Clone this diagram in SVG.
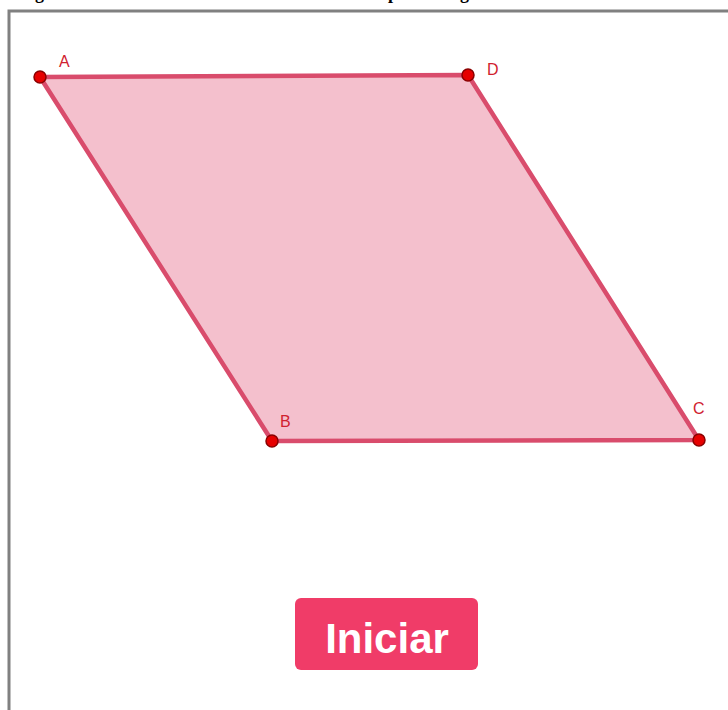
<svg xmlns="http://www.w3.org/2000/svg" width="728" height="710" viewBox="0 0 728 710">
<style>
.lbl{font-family:"Liberation Sans",Arial,sans-serif;font-size:16px;fill:#d0212f}
.pt{fill:#e60000;stroke:#8a0000;stroke-width:1.5}
.cut{font-family:"Liberation Serif","Times New Roman",serif;font-weight:bold;font-size:18px;fill:#000}
</style>
<rect width="728" height="710" fill="#ffffff"/>
<text class="cut" x="35" y="-1">g</text>
<text class="cut" x="388" y="-1">p</text>
<text class="cut" x="460" y="-1">g</text>
<path d="M9 712 V11 H730" fill="none" stroke="#808080" stroke-width="3"/>
<g id="shape">
<polygon points="40,77 468,75 699,440 272,441" fill="#f4c0cd" stroke="#d94c6c" stroke-width="4.5" stroke-linejoin="round"/>
</g>
<g id="A"><circle class="pt" cx="40" cy="77" r="6"/><text class="lbl" x="59" y="67">A</text></g>
<g id="D"><circle class="pt" cx="468" cy="75" r="6"/><text class="lbl" x="487" y="75">D</text></g>
<g id="B"><circle class="pt" cx="272" cy="441" r="6"/><text class="lbl" x="280" y="427">B</text></g>
<g id="C"><circle class="pt" cx="699" cy="440" r="6"/><text class="lbl" x="693" y="414">C</text></g>
<g id="button">
<rect x="295" y="598" width="183" height="72" rx="6" fill="#f03c68"/>
<text x="387" y="653" text-anchor="middle" font-family="Liberation Sans,Arial,sans-serif" font-weight="bold" font-size="42" fill="#ffffff">Iniciar</text>
</g>
</svg>
